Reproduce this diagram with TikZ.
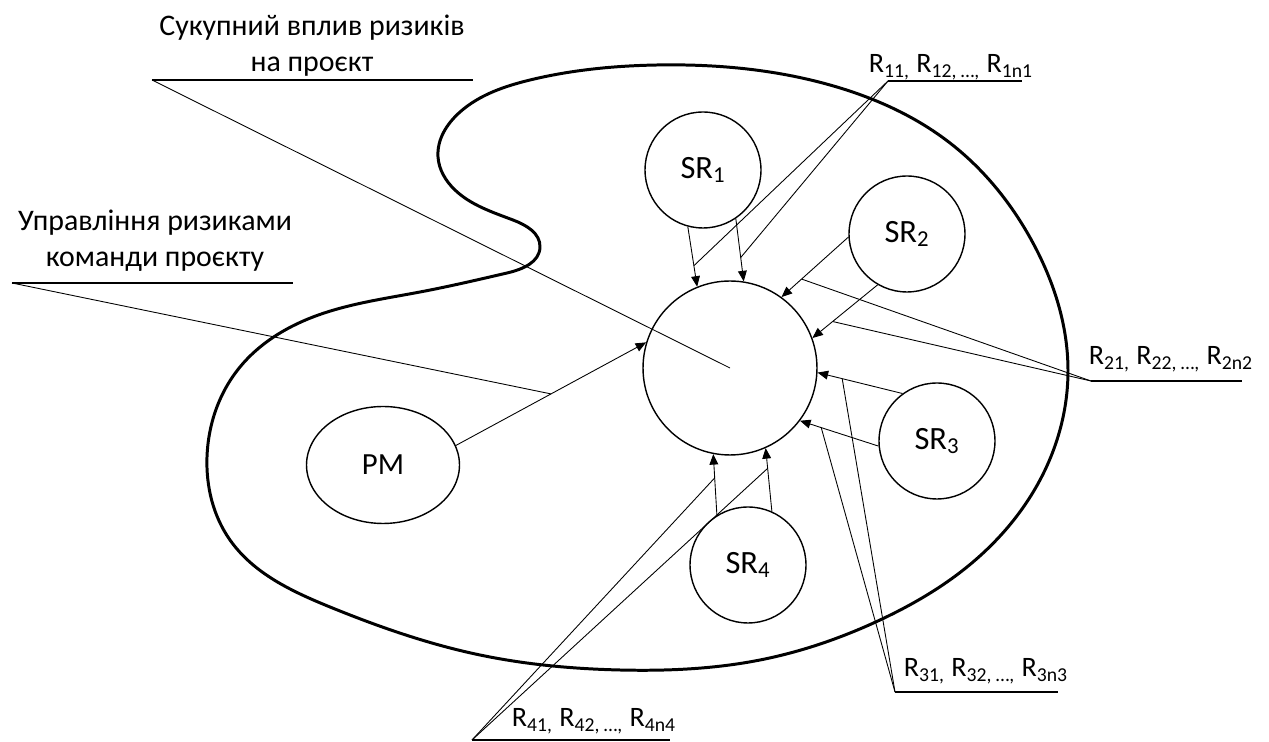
\documentclass[tikz,border=0pt]{standalone}
\usepackage{fontspec}
\setmainfont{Carlito}
\usetikzlibrary{shapes.geometric,arrows.meta,hobby}

\tikzset{
	blob/.style={line width=1.7pt, line join=round},
	centre/.style={circle, draw, line width=0.8pt, minimum size=3.48cm, inner sep=0pt},
	srnode/.style={circle, draw, line width=0.8pt, minimum size=2.32cm, inner sep=0pt, font=\fontsize{18.5}{21}\selectfont},
	pmnode/.style={ellipse, draw, line width=0.8pt, minimum width=3.06cm, minimum height=2.34cm, inner sep=0pt, font=\fontsize{17.5}{20}\selectfont},
	arr/.style={-{Triangle[length=6pt,width=5pt]}, line width=0.5pt},
	lead/.style={line width=0.5pt},
	uline/.style={line width=1.2pt},
	note/.style={align=center, anchor=south, inner sep=0pt, font=\fontsize{17}{20.5}\selectfont},
	rlab/.style={anchor=base, inner sep=0pt, font=\fontsize{16}{18}\selectfont}
}

\begin{document}
\begin{tikzpicture}[x=0.02cm, y=-0.02cm]
	\useasboundingbox (0,0) rectangle (1269,742);

	%outline
	\draw [blob] plot [closed hobby] coordinates {
		(657,65) (830,85) (950,143) (1033,243) (1068,370) (1040,480)
		(967,567) (880,620) (760,660) (620,670) (480,655) (330,607)
		(230,540) (207,457) (240,367) (313,317) (420,292) (507,273)
		(540,247) (513,220) (455,190) (438,157) (460,112) (530,80)
	};

	%nodes
	\node [centre] (cen) at (730,368) {};
	\node [pmnode] (pm) at (383,465) {PM};
	\foreach \n/\x/\y in {1/703/170, 2/907/234, 3/937/441, 4/748/565}
		\node [srnode] (sr\n) at (\x,\y) {SR\textsubscript{\n}};

	%arrows
	\draw [arr] (sr1.255) -- (cen.112) coordinate [pos=0.65] (a1);
	\draw [arr] (sr1.304) -- (cen.81) coordinate [pos=0.62] (b1);
	\draw [arr] (sr2.183) -- (cen.54) coordinate [pos=0.70] (a2);
	\draw [arr] (sr2.240) -- (cen.20) coordinate [pos=0.69] (b2);
	\draw [arr] (sr3.126) -- (cen.357) coordinate [pos=0.71] (a3);
	\draw [arr] (sr3.185) -- (cen.323) coordinate [pos=0.73] (b3);
	\draw [arr] (sr4.122) -- (cen.259) coordinate [pos=0.61] (a4);
	\draw [arr] (sr4.66) -- (cen.294) coordinate [pos=0.68] (b4);
	\draw [arr] (pm.15) -- (cen.163) coordinate [pos=0.5] (m0);

	%labels
	\node [note] (sum) at (312,77) {Сукупний вплив ризиків\\на проєкт};
	\node [note] (team) at (155,272) {Управління ризиками\\команди проєкту};
	\node [rlab] (r1) at (951,73) {R\textsubscript{11,} R\textsubscript{12, …,} R\textsubscript{1n1}};
	\node [rlab] (r2) at (1171,365) {R\textsubscript{21,} R\textsubscript{22, …,} R\textsubscript{2n2}};
	\node [rlab] (r3) at (986,677) {R\textsubscript{31,} R\textsubscript{32, …,} R\textsubscript{3n3}};
	\node [rlab] (r4) at (594,727) {R\textsubscript{41,} R\textsubscript{42, …,} R\textsubscript{4n4}};

	%underlines
	\coordinate (s0) at (152,80);   \coordinate (s1) at (473,80);
	\coordinate (t0) at (12,283);   \coordinate (t1) at (293,283);
	\coordinate (q1) at (888,81);   \coordinate (e1) at (1022,81);
	\coordinate (q2) at (1091,381); \coordinate (e2) at (1242,381);
	\coordinate (q3) at (895,692);  \coordinate (e3) at (1058,692);
	\coordinate (q4) at (472,740);  \coordinate (e4) at (670,740);
	\foreach \a/\b in {s0/s1, t0/t1, q1/e1, q2/e2, q3/e3, q4/e4}
		\draw [uline] (\a) -- (\b);

	%leaders
	\draw [lead] (s0) -- (cen.center);
	\draw [lead] (t0) -- (m0);
	\foreach \i in {1,2,3,4} {
		\draw [lead] (q\i) -- (a\i);
		\draw [lead] (q\i) -- (b\i);
	}

\end{tikzpicture}
\end{document}
